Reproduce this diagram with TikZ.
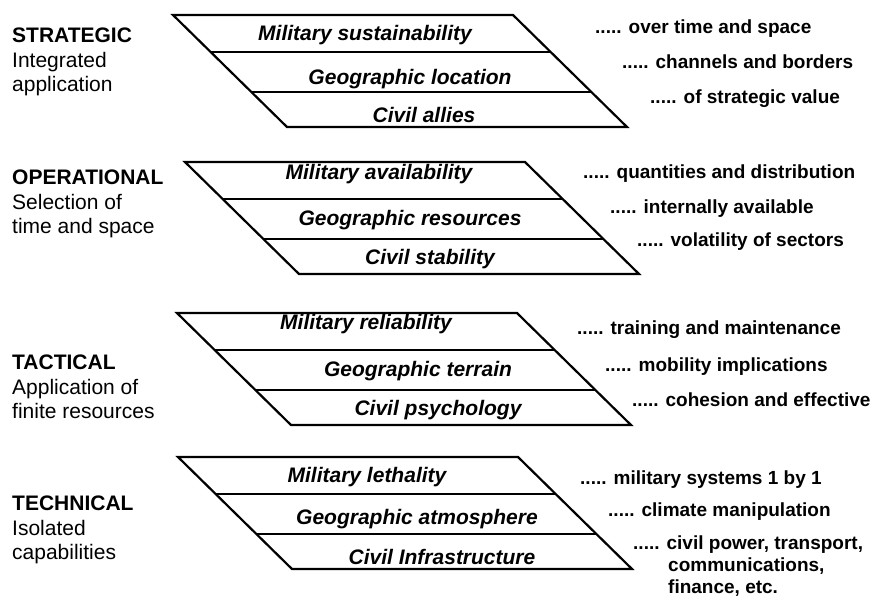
\documentclass[tikz,border=0pt]{standalone}
\usepackage{fontspec}
\setmainfont{Liberation Sans}
\begin{document}
\begin{tikzpicture}[x=1pt,y=-1pt,
  band/.style={line width=2.2pt, line join=miter},
  inlabel/.style={font=\fontsize{21}{24}\selectfont\bfseries\itshape, inner sep=0pt, anchor=base},
  head/.style={font=\fontsize{21}{26}\selectfont\bfseries, inner sep=0pt, anchor=base west},
  sub/.style={font=\fontsize{21}{26}\selectfont, inner sep=0pt, anchor=base west},
  note/.style={font=\fontsize{19}{26}\selectfont\bfseries, inner sep=0pt, anchor=base west}]
\useasboundingbox (0,0) rectangle (877,598);
% layers: top y, top-left x
\foreach \t/\x [count=\i] in {15/173, 162/185, 313/177, 457/178}{
  \coordinate (tl\i) at (\x,\t);
  \coordinate (tr\i) at (\x+340,\t);
  \coordinate (br\i) at (\x+340+114,\t+112);
  \coordinate (bl\i) at (\x+114,\t+112);
  \draw[band] (tl\i) -- (tr\i) -- (br\i) -- (bl\i) -- cycle;
  \draw[band] (\x+37.7,\t+37) -- (\x+340+37.7,\t+37);
  \draw[band] (\x+78.5,\t+77) -- (\x+340+78.5,\t+77);
}
% inner labels
\node[inlabel] (m1) at (365,40) {Military sustainability};
\node[inlabel] (g1) at (410,84) {Geographic location};
\node[inlabel] (c1) at (424,122) {Civil allies};
\node[inlabel] (m2) at (379,179) {Military availability};
\node[inlabel] (g2) at (410,225) {Geographic resources};
\node[inlabel] (c2) at (430,264) {Civil stability};
\node[inlabel] (m3) at (366,329) {Military reliability};
\node[inlabel] (g3) at (418,376) {Geographic terrain};
\node[inlabel] (c3) at (438,415) {Civil psychology};
\node[inlabel] (m4) at (367,482) {Military lethality};
\node[inlabel] (g4) at (417,524) {Geographic atmosphere};
\node[inlabel] (c4) at (442,564) {Civil Infrastructure};
% left labels
\node[head] (h1) at (12,42) {STRATEGIC};
\node[sub] (s1a) at (12,67) {Integrated};
\node[sub] (s1b) at (12,91) {application};
\node[head] (h2) at (12,184) {OPERATIONAL};
\node[sub] (s2a) at (12,209) {Selection of};
\node[sub] (s2b) at (12,233) {time and space};
\node[head] (h3) at (12,369) {TACTICAL};
\node[sub] (s3a) at (12,394) {Application of};
\node[sub] (s3b) at (12,418) {finite resources};
\node[head] (h4) at (12,510) {TECHNICAL};
\node[sub] (s4a) at (12,535) {Isolated};
\node[sub] (s4b) at (12,559) {capabilities};
% right notes
\node[note] (n1a) at (595,33) {..... over time and space};
\node[note] (n1b) at (622,68) {..... channels and borders};
\node[note] (n1c) at (650,103) {..... of strategic value};
\node[note] (n2a) at (583,178) {..... quantities and distribution};
\node[note] (n2b) at (610,213) {..... internally available};
\node[note] (n2c) at (637,246) {..... volatility of sectors};
\node[note] (n3a) at (577,334) {..... training and maintenance};
\node[note] (n3b) at (605,371) {..... mobility implications};
\node[note] (n3c) at (632,406) {..... cohesion and effective};
\node[note] (n4a) at (580,484) {..... military systems 1 by 1};
\node[note] (n4b) at (608,516) {..... climate manipulation};
\node[note] (n4c) at (633,549) {..... civil power, transport,};
\node[note] (n4d) at (668,571) {communications,};
\node[note] (n4e) at (668,593) {finance, etc.};
\end{tikzpicture}
\end{document}
